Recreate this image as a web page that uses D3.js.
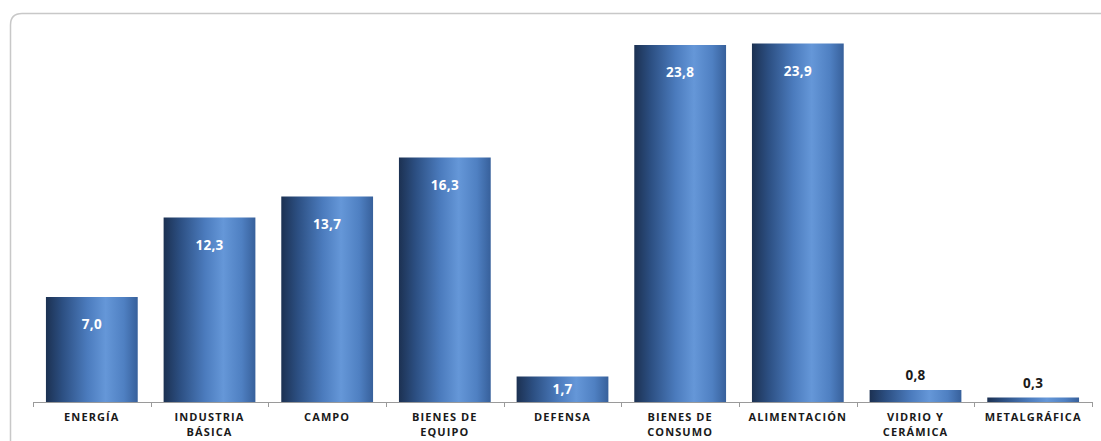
<!DOCTYPE html>
<html><head><meta charset="utf-8">
<script src="https://cdn.jsdelivr.net/npm/d3@7"></script>
<style>html,body{margin:0;padding:0;background:#fff;}svg{display:block;}</style>
</head><body>
<svg id="chart" width="1101" height="441"></svg>
<script>
const categories = [["ENERGÍA"],["INDUSTRIA","BÁSICA"],["CAMPO"],["BIENES DE","EQUIPO"],["DEFENSA"],["BIENES DE","CONSUMO"],["ALIMENTACIÓN"],["VIDRIO Y","CERÁMICA"],["METALGRÁFICA"]];
const values = [7.0,12.3,13.7,16.3,1.7,23.8,23.9,0.8,0.3];
const valueLabels = ["7,0","12,3","13,7","16,3","1,7","23,8","23,9","0,8","0,3"];

const svg = d3.select("#chart");
const font = "'Open Sans', 'DejaVu Sans', sans-serif";

// frame
svg.append("path")
  .attr("d","M10.5,441 L10.5,25 Q10.5,13.5 22,13.5 L1101,13.5")
  .attr("fill","none").attr("stroke","#c8c8c8").attr("stroke-width",1.5);

const defs = svg.append("defs");
const g = defs.append("linearGradient").attr("id","barGrad").attr("x1","0").attr("x2","1").attr("y1","0").attr("y2","0");
[["0%","#1c3152"],["18%","#2c4f82"],["45%","#4b7bbd"],["65%","#6597d8"],["85%","#4f80c2"],["100%","#37609b"]]
  .forEach(([o,c])=>g.append("stop").attr("offset",o).attr("stop-color",c));

const x = d3.scaleBand().domain(d3.range(values.length)).range([33,1092]).paddingInner(0.22).paddingOuter(0.11);
const y = d3.scaleLinear().domain([0,25]).range([402,27]);

svg.selectAll("rect.bar").data(values).join("rect").attr("class","bar")
  .attr("x",(d,i)=>x(i)).attr("width",x.bandwidth())
  .attr("y",d=>y(d)).attr("height",d=>y(0)-y(d))
  .attr("fill","url(#barGrad)");

// axis
svg.append("line").attr("x1",33).attr("x2",1092).attr("y1",402.5).attr("y2",402.5).attr("stroke","#9a9a9a").attr("stroke-width",1);
const tickX = d3.range(values.length+1).map(i=>33+i*(1092-33)/values.length);
svg.selectAll("line.tick").data(tickX).join("line").attr("class","tick")
  .attr("x1",d=>Math.round(d)+0.5).attr("x2",d=>Math.round(d)+0.5).attr("y1",402).attr("y2",407)
  .attr("stroke","#9a9a9a");

// value labels
svg.selectAll("text.val").data(values).join("text").attr("class","val")
  .attr("x",(d,i)=>x(i)+x.bandwidth()/2)
  .attr("y",d=> d>=1.5 ? (d<3 ? (y(d)+y(0))/2+5 : y(d)+32) : y(d)-10)
  .attr("text-anchor","middle")
  .attr("font-family",font).attr("font-weight","bold").attr("font-size","13.5px")
  .attr("letter-spacing","0.3px")
  .attr("fill",d=> d>=1.5 ? "#ffffff" : "#1a1a1a")
  .text((d,i)=>valueLabels[i]);

// category labels (one text element per line)
const catLines = [];
categories.forEach((lines,i)=>lines.forEach((line,j)=>catLines.push({i,j,line})));
svg.selectAll("text.cat").data(catLines).join("text").attr("class","cat")
  .attr("x",d=>x(d.i)+x.bandwidth()/2).attr("y",d=>421+d.j*15)
  .attr("text-anchor","middle")
  .attr("font-family",font).attr("font-weight","bold").attr("font-size","11px")
  .attr("letter-spacing","1.1px")
  .attr("fill","#1a1a1a")
  .text(d=>d.line);
</script>
</body></html>
